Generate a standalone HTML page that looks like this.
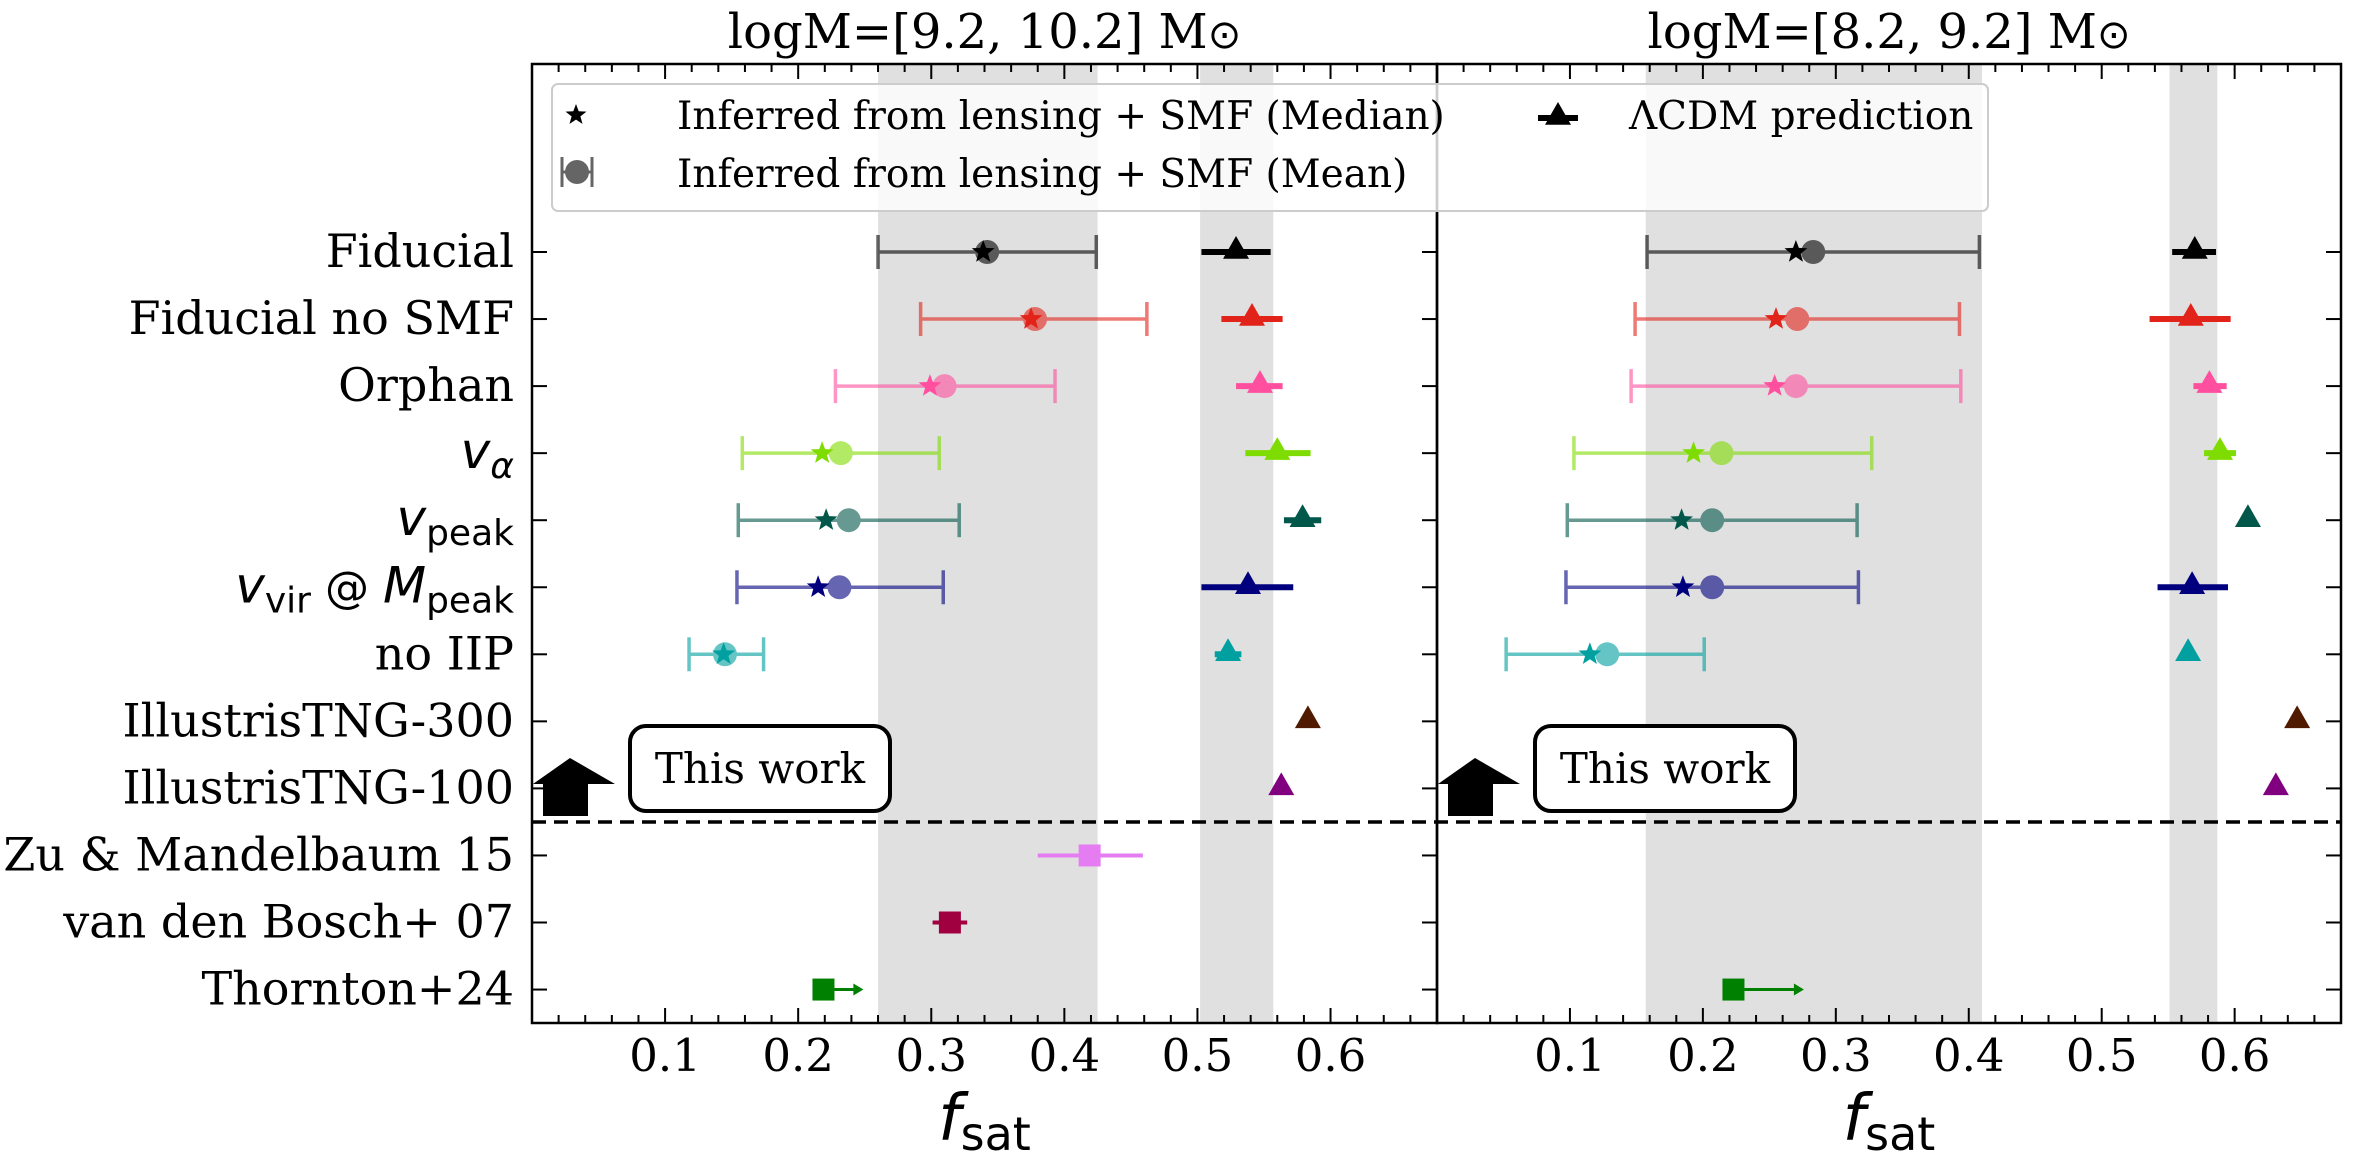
<!DOCTYPE html>
<html><head><meta charset="utf-8"><style>
html,body{margin:0;padding:0;background:#fff;}
svg{display:block;}
text{font-family:"DejaVu Serif","Liberation Serif",serif;}
.m{font-family:"DejaVu Sans","Liberation Sans",sans-serif;}
</style></head><body>
<svg id="chart" width="2364" height="1162" viewBox="0 0 2364 1162" xmlns="http://www.w3.org/2000/svg"></svg>
<script>
const categories=["Fiducial","Fiducial no SMF","Orphan","v_alpha","v_peak","v_vir@M_peak","no IIP","IllustrisTNG-300","IllustrisTNG-100","Zu & Mandelbaum 15","van den Bosch+ 07","Thornton+24"];
const colors=["#000000","#e2231a","#ff4f9e","#7fdc00","#00574a","#00007f","#00a0a0","#4f1a00","#800080","#e67cf2","#a00040","#008000"];
const xTicks=[0.1,0.2,0.3,0.4,0.5,0.6];
// left panel
const L_medians=[0.339,0.375,0.299,0.218,0.221,0.215,0.144];
const L_means=[0.342,0.378,0.310,0.232,0.238,0.231,0.145];
const L_errLo=[0.260,0.292,0.228,0.158,0.155,0.154,0.118];
const L_errHi=[0.424,0.462,0.393,0.306,0.321,0.309,0.174];
const L_lcdm=[0.529,0.541,0.547,0.560,0.579,0.538,0.523,0.583,0.563];
const L_lcdmLo=[0.503,0.518,0.529,0.536,0.565,0.503,0.513,null,null];
const L_lcdmHi=[0.555,0.564,0.564,0.585,0.593,0.572,0.533,null,null];
const L_bands=[[0.260,0.425],[0.502,0.557]];
const L_zu=[0.419,0.380,0.459];
const L_vdb=[0.314,0.301,0.327];
const L_thornton=[0.219,0.249];
// right panel
const R_medians=[0.270,0.255,0.254,0.193,0.184,0.185,0.115];
const R_means=[0.283,0.271,0.270,0.214,0.207,0.207,0.128];
const R_errLo=[0.158,0.149,0.146,0.103,0.098,0.097,0.052];
const R_errHi=[0.408,0.393,0.394,0.327,0.316,0.317,0.201];
const R_lcdm=[0.570,0.567,0.581,0.589,0.610,0.568,0.565,0.647,0.631];
const R_lcdmLo=[0.553,0.536,0.569,0.577,null,0.542,null,null,null];
const R_lcdmHi=[0.586,0.597,0.594,0.601,null,0.595,null,null,null];
const R_bands=[[0.157,0.410],[0.551,0.587]];
const R_thornton=[0.223,0.276];

const svg=document.getElementById('chart');
const NS='http://www.w3.org/2000/svg';
function mk(tag,attrs,parent){const e=document.createElementNS(NS,tag);for(const k in attrs)e.setAttribute(k,attrs[k]);(parent||svg).appendChild(e);return e;}
const TOP=64,BOT=1023;
function yPos(i){return 252+i*67.05;}
const panels=[{x0:532,x1:1437,title:"logM=[9.2, 10.2] M",key:'left'},{x0:1437,x1:2341,title:"logM=[8.2, 9.2] M",key:'right'}];
const XMAX=0.68;
function xf(p){return v=>p.x0+v/XMAX*(p.x1-p.x0);}
function star(cx,cy,r){let s='';for(let k=0;k<10;k++){const a=-Math.PI/2+k*Math.PI/5;const rr=k%2?r*0.42:r;s+=(cx+rr*Math.cos(a)).toFixed(1)+','+(cy+rr*Math.sin(a)).toFixed(1)+' ';}return s;}
function tri(cx,cy,r){return `${cx},${cy-r} ${cx+r*1.0},${cy+r*0.75} ${cx-r*1.0},${cy+r*0.75}`;}

function drawPanel(p,d){
  const X=xf(p);
  const g=mk('g',{});
  
  
  d.bands.forEach((b,i)=>{const r=mk('rect',{x:X(b[0]),y:TOP,width:X(b[1])-X(b[0]),height:BOT-TOP,fill:'#e0e0e0'},g);
    });
  for(let v=0.02;v<XMAX;v+=0.02){const vv=Math.round(v*100)/100;const major=Math.abs(vv*10-Math.round(vv*10))<1e-6;const len=major?15:8;
    mk('line',{x1:X(vv),x2:X(vv),y1:BOT,y2:BOT-len,stroke:'#000','stroke-width':2},g);
    mk('line',{x1:X(vv),x2:X(vv),y1:TOP,y2:TOP+len,stroke:'#000','stroke-width':2},g);}
  xTicks.forEach(v=>{const t=mk('text',{x:X(v),y:1071,'font-size':45,'text-anchor':'middle'},g);t.textContent=v.toFixed(1);
    });
  categories.forEach((c,i)=>{
    if(p.key==='left')mk('line',{x1:p.x0,x2:p.x0+15,y1:yPos(i),y2:yPos(i),stroke:'#000','stroke-width':2},g);
    mk('line',{x1:p.x1-15,x2:p.x1,y1:yPos(i),y2:yPos(i),stroke:'#000','stroke-width':2},g);
  });
  d.med.forEach((m,i)=>{
    const y=yPos(i),col=colors[i];
    const eg=mk('g',{opacity:0.6},g);
    
    mk('line',{x1:X(d.lo[i]),x2:X(d.hi[i]),y1:y,y2:y,stroke:col,'stroke-width':3.5},eg);
    mk('line',{x1:X(d.lo[i]),x2:X(d.lo[i]),y1:y-17,y2:y+17,stroke:col,'stroke-width':3.5},eg);
    mk('line',{x1:X(d.hi[i]),x2:X(d.hi[i]),y1:y-17,y2:y+17,stroke:col,'stroke-width':3.5},eg);
    mk('circle',{cx:X(d.mean[i]),cy:y,r:12,fill:col},eg);
    const s=mk('polygon',{points:star(X(m),y,12),fill:col},g);
    
  });
  d.lcdm.forEach((v,i)=>{
    const y=yPos(i),col=colors[i];
    if(d.lcdmLo[i]!==null){const l=mk('line',{x1:X(d.lcdmLo[i]),x2:X(d.lcdmHi[i]),y1:y,y2:y,stroke:col,'stroke-width':6},g);
      }
    const t=mk('polygon',{points:tri(X(v),y-3,13),fill:col},g);
    
  });
  if(d.zu){const y=yPos(9);
    mk('line',{x1:X(d.zu[1]),x2:X(d.zu[2]),y1:y,y2:y,stroke:colors[9],'stroke-width':4},g);
    const s=mk('rect',{x:X(d.zu[0])-11,y:y-11,width:22,height:22,fill:colors[9]},g);
    
    const y2=yPos(10);
    mk('line',{x1:X(d.vdb[1]),x2:X(d.vdb[2]),y1:y2,y2:y2,stroke:colors[10],'stroke-width':4},g);
    const s2=mk('rect',{x:X(d.vdb[0])-11,y:y2-11,width:22,height:22,fill:colors[10]},g);
    }
  {const y=yPos(11),col=colors[11];
    mk('line',{x1:X(d.th[0]),x2:X(d.th[1])-6,y1:y,y2:y,stroke:col,'stroke-width':3},g);
    mk('polygon',{points:`${X(d.th[1])},${y} ${X(d.th[1])-10},${y-6} ${X(d.th[1])-10},${y+6}`,fill:col},g);
    const s=mk('rect',{x:X(d.th[0])-11,y:y-11,width:22,height:22,fill:col},g);
    }
  const a=mk('polygon',{points:`${p.x0+11},${816} ${p.x0+11},${784} ${p.x0+1},${784} ${p.x0+38},${758} ${p.x0+83},${784} ${p.x0+56},${784} ${p.x0+56},${816}`,fill:'#000'},g);
  
  const bx=p.x0+98;
  const br=mk('rect',{x:bx,y:726,width:260,height:85,rx:16,fill:'#fff',stroke:'#000','stroke-width':4},g);
  
  const bt=mk('text',{x:bx+130,y:783,'font-size':42,'text-anchor':'middle'},g);bt.textContent='This work';
  
  const tt=mk('text',{x:(p.x0+p.x1)/2,y:48,'font-size':48,'text-anchor':'middle'},g);
  tt.textContent=p.title;const ts=document.createElementNS(NS,'tspan');ts.setAttribute('class','m');ts.textContent='⊙';ts.setAttribute('font-size',40);tt.appendChild(ts);
  
  const xl=mk('text',{x:(p.x0+p.x1)/2,y:1140,'font-size':64,'text-anchor':'middle',class:'m','font-style':'italic'},g);
  xl.textContent='f';const sb=document.createElementNS(NS,'tspan');sb.setAttribute('font-style','normal');sb.setAttribute('font-size',46);sb.setAttribute('dy',10);sb.textContent='sat';xl.appendChild(sb);
  
}
drawPanel(panels[0],{bands:L_bands,med:L_medians,mean:L_means,lo:L_errLo,hi:L_errHi,lcdm:L_lcdm,lcdmLo:L_lcdmLo,lcdmHi:L_lcdmHi,zu:L_zu,vdb:L_vdb,th:L_thornton});
drawPanel(panels[1],{bands:R_bands,med:R_medians,mean:R_means,lo:R_errLo,hi:R_errHi,lcdm:R_lcdm,lcdmLo:R_lcdmLo,lcdmHi:R_lcdmHi,th:R_thornton});
const ds=mk('line',{x1:532,x2:2341,y1:822,y2:822,stroke:'#000','stroke-width':3.5,'stroke-dasharray':'14,8'});

[[532,1437],[1437,2341]].forEach((f,i)=>{const r=mk('rect',{x:f[0],y:TOP,width:f[1]-f[0],height:BOT-TOP,fill:'none',stroke:'#000','stroke-width':2.5});
  });
const ylab=[["Fiducial"],["Fiducial no SMF"],["Orphan"],["v","α"],["v","peak"],["vvir"],["no IIP"],["IllustrisTNG-300"],["IllustrisTNG-100"],["Zu & Mandelbaum 15"],["van den Bosch+ 07"],["Thornton+24"]];
ylab.forEach((l,i)=>{
  const y=yPos(i)+15;
  const t=mk('text',{x:514,y:y,'font-size':46,'text-anchor':'end'});
  
  if(i===3||i===4){t.setAttribute('class','m');
    const a=document.createElementNS(NS,'tspan');a.setAttribute('font-style','italic');a.setAttribute('font-size',50);a.textContent='v';t.appendChild(a);
    const b=document.createElementNS(NS,'tspan');b.setAttribute('font-size',36);b.setAttribute('dy',10);if(i===3)b.setAttribute('font-style','italic');b.textContent=l[1];t.appendChild(b);}
  else if(i===5){t.setAttribute('class','m');
    const parts=[['v',50,'italic',0],['vir',36,'normal',10],[' @ ',44,'normal',-10],['M',50,'italic',0],['peak',36,'normal',10]];
    parts.forEach(q=>{const s=document.createElementNS(NS,'tspan');s.setAttribute('font-size',q[1]);s.setAttribute('font-style',q[2]);s.setAttribute('dy',q[3]);s.textContent=q[0];t.appendChild(s);});}
  else t.textContent=l[0];
});
const lg=mk('g',{});
mk('rect',{x:552,y:84,width:1436,height:127,rx:6,fill:'#ffffff','fill-opacity':0.8,stroke:'#cccccc','stroke-width':2},lg);
const le1=mk('polygon',{points:star(576,115,11),fill:'#000'},lg);

const le2=mk('g',{opacity:0.6},lg);
mk('line',{x1:562,x2:592,y1:172,y2:172,stroke:'#000','stroke-width':3},le2);
mk('line',{x1:562,x2:562,y1:157,y2:187,stroke:'#000','stroke-width':3},le2);
mk('line',{x1:592,x2:592,y1:157,y2:187,stroke:'#000','stroke-width':3},le2);
mk('circle',{cx:577,cy:172,r:12,fill:'#000'},le2);
const le3=mk('g',{},lg);
mk('line',{x1:1538,x2:1578,y1:118,y2:118,stroke:'#000','stroke-width':6},le3);
mk('polygon',{points:tri(1558,115,13),fill:'#000'},le3);
[[677,129,'Inferred from lensing + SMF (Median)'],[677,187,'Inferred from lensing + SMF (Mean)'],[1629,129,'ΛCDM prediction']].forEach(q=>{
  const t=mk('text',{x:q[0],y:q[1],'font-size':39},lg);t.textContent=q[2];
  });
</script>
</body></html>
